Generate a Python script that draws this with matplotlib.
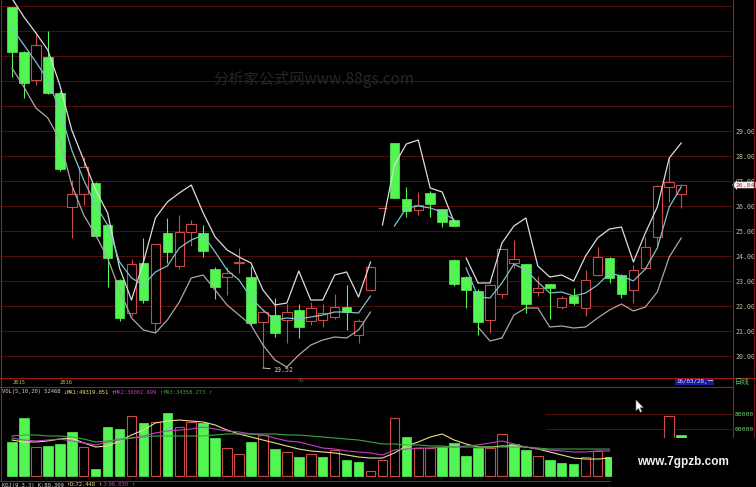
import numpy as np
import matplotlib
matplotlib.use("Agg")
import matplotlib.pyplot as plt
from matplotlib.patches import Rectangle, Polygon
from matplotlib.lines import Line2D

plt.rcParams['font.family'] = ['DejaVu Sans', 'Noto Sans CJK SC']

# ---- candle data (three pieces of the screenshot) ----
# left piece
xa = np.arange(0, 31)
open_a = [33.96, 32.16, 31.04, 31.96, 30.52, 25.96, 26.48, 26.92, 25.24, 23.04,
          21.72, 23.72, 21.32, 24.92, 23.60, 24.96, 24.92, 23.48, 23.16, 23.72,
          23.16, 21.36, 21.64, 21.44, 21.84, 21.40, 21.44, 21.56, 21.96, 20.84, 22.64]
high_a = [33.98, 32.20, 32.96, 33.00, 30.60, 27.04, 27.96, 26.95, 25.30, 23.10,
          23.90, 24.72, 24.50, 25.52, 25.64, 25.44, 25.24, 23.56, 23.56, 24.32,
          23.60, 21.90, 22.32, 22.08, 22.08, 22.16, 22.08, 22.48, 22.84, 21.50, 23.60]
low_a = [31.16, 30.32, 30.84, 30.50, 27.40, 24.72, 26.04, 24.75, 22.76, 21.40,
         21.60, 22.12, 20.92, 23.72, 23.50, 24.40, 23.96, 22.28, 22.44, 23.32,
         21.20, 19.52, 20.76, 20.52, 20.72, 21.24, 21.16, 21.50, 21.04, 20.52, 22.60]
close_a = [32.16, 30.92, 32.44, 30.52, 27.48, 26.48, 27.56, 24.80, 23.92, 21.52,
           23.68, 22.24, 24.48, 24.16, 24.96, 25.28, 24.20, 22.76, 23.32, 23.76,
           21.32, 21.76, 20.92, 21.76, 21.16, 21.92, 21.72, 21.96, 21.76, 21.40, 23.56]
boll_up_a = [34.30, 33.56, 32.92, 32.24, 30.84, 29.04, 27.84, 26.64, 25.72, 23.52,
             22.24, 23.76, 25.52, 26.16, 26.52, 26.84, 25.72, 24.76, 24.24, 23.96,
             23.72, 22.64, 22.04, 22.12, 23.40, 22.24, 22.24, 23.24, 23.36, 22.36, 23.76]
boll_mid_a = [33.12, 32.44, 31.76, 31.04, 29.84, 28.24, 27.04, 26.04, 25.24, 23.76,
              23.12, 22.84, 23.36, 23.60, 24.32, 24.64, 24.84, 24.16, 23.44, 23.04,
              22.32, 21.84, 21.44, 21.52, 21.48, 21.56, 21.64, 21.76, 21.76, 21.72, 22.40]
boll_low_a = [31.52, 30.76, 29.92, 29.52, 28.64, 26.84, 25.64, 24.84, 23.92, 22.64,
              21.52, 21.04, 20.92, 21.44, 22.16, 23.12, 23.24, 22.64, 22.04, 21.64,
              21.24, 20.44, 19.84, 19.56, 20.04, 20.44, 20.64, 20.76, 20.72, 21.04, 21.76]

# upper middle piece
xb = np.arange(31, 38)
open_b = [25.92, 28.52, 26.28, 25.84, 26.52, 25.88, 25.44]
high_b = [25.92, 28.52, 26.76, 26.56, 26.60, 25.90, 25.44]
low_b = [25.92, 26.32, 25.56, 25.64, 25.56, 25.16, 25.20]
close_b = [25.92, 26.32, 25.80, 26.04, 26.08, 25.36, 25.20]
boll_up_b = [25.24, 27.64, 28.48, 28.64, 26.72, 26.56, 25.36]
boll_mid_b = [np.nan, 25.20, 25.92, 26.00, 25.92, 25.76, 25.44]

# right piece
xc = np.arange(37, 57)
open_c = [23.84, 23.16, 22.60, 21.44, 22.48, 23.72, 23.68, 22.56, 22.88, 21.96,
          22.40, 21.92, 23.24, 23.92, 23.24, 22.64, 23.52, 24.76, 26.76, 26.48]
high_c = [23.90, 23.20, 22.70, 22.90, 24.30, 24.64, 23.70, 23.20, 22.90, 22.40,
          22.72, 23.44, 24.36, 23.95, 23.30, 23.64, 24.76, 26.85, 27.92, 26.88]
low_c = [22.80, 21.92, 20.84, 20.92, 22.32, 23.52, 21.72, 22.40, 21.50, 21.90,
         22.04, 21.60, 23.20, 22.92, 22.32, 22.12, 23.50, 24.32, 26.16, 25.92]
close_c = [22.88, 22.64, 21.36, 22.84, 24.28, 23.88, 22.08, 22.72, 22.72, 22.32,
           22.12, 23.04, 23.96, 23.12, 22.48, 23.44, 24.36, 26.80, 26.96, 26.84]
boll_up_c = [np.nan, 23.92, 22.92, 22.92, 24.52, 25.20, 25.52, 23.60, 23.16, 23.24,
             23.00, 24.00, 24.72, 25.08, 25.16, 23.76, 24.92, 25.96, 27.92, 28.52]
boll_mid_c = [np.nan, 23.52, 22.36, 22.32, 22.92, 23.68, 23.44, 22.96, 22.52, 22.56,
              22.40, 22.52, 22.84, 23.32, 23.20, 23.00, 23.48, 24.32, 25.96, 26.76]
boll_low_c = [np.nan, np.nan, 21.16, 20.60, 20.72, 21.64, 21.92, 21.92, 21.16, 21.20,
              21.12, 21.16, 21.52, 21.84, 22.08, 21.80, 21.96, 22.56, 23.96, 24.72]

price_ticks = [20, 21, 22, 23, 24, 25, 26, 27, 28, 29]
last_price = 26.84
low_mark = 19.52

# ---- volume ----
xv = np.arange(0, 57)
nan = np.nan
vol = [43900, 74800, 37400, 38700, 41300, 56800, 37400, 9000, 63200, 60600,
       77400, 68400, 69700, 81300, 63200, 69700, 68400, 49000, 36100, 28400,
       43900, 52900, 34800, 31000, 24500, 28400, 24500, 33500, 20600, 18100,
       6500, 20600, 74800, 50300, 36100, 36100, 37400, 42600, 25800, 36100,
       36100, 54200, 41300, 33500, 25800, 20600, 16800, 15500, 24500, 32300,
       24500, nan, nan, nan, nan, 77400, 52900]
vol_up = [0, 0, 1, 0, 0, 0, 1, 0, 0, 0, 1, 0, 1, 0, 1, 1, 0, 0, 1, 1,
          0, 1, 0, 1, 0, 1, 0, 1, 0, 0, 1, 1, 1, 0, 1, 1, 0, 0, 0, 0,
          1, 1, 0, 0, 1, 0, 0, 0, 1, 1, 0, 0, 0, 0, 0, 1, 0]
xm = np.arange(0, 51)
vol_ma1 = [46400, 43900, 43900, 45200, 47700, 49000, 42600, 37400, 38700, 45200,
           52900, 59300, 68400, 70900, 72200, 70900, 69700, 65800, 59300, 54200,
           50300, 46400, 42600, 38700, 34800, 32300, 31000, 29700, 27100, 24500,
           23200, 23200, 29700, 38700, 43900, 50300, 54200, 46400, 41300, 37400,
           37400, 38700, 38700, 37400, 34800, 31000, 27100, 23200, 21900, 21900, 23200]
vol_ma2 = [49000, 46400, 45200, 46400, 47700, 45200, 42600, 40000, 43900, 46400,
           49000, 51600, 55500, 58100, 59300, 60600, 63200, 60600, 58100, 56800,
           54200, 52900, 49000, 45200, 43900, 40000, 36100, 34800, 32300, 31000,
           29700, 27100, 33500, 34800, 36100, 36100, 37400, 37400, 38700, 40000,
           42600, 45200, 41300, 37400, 34800, 33500, 32300, 31000, 31000, 32300, 32300]
vol_ma3 = [51600, 52900, 52900, 51600, 51600, 50300, 47700, 43900, 45200, 47700,
           49000, 50300, 51600, 51600, 51600, 51600, 51600, 52900, 54200, 54200,
           54200, 54200, 54200, 52900, 52900, 51600, 50300, 49000, 47700, 46400,
           43900, 41300, 41300, 40000, 40000, 38700, 38700, 37400, 37400, 37400,
           37400, 37400, 37400, 37400, 36100, 34800, 34800, 34800, 34800, 34800, 34800]
vol_ticks = [60000, 80000]

# ---- colours ----
BG = 'black'
GREEN = '#52f552'
RED = '#c84a4a'
GRID = '#520e0e'
FRAME = '#9a1c1c'
TXT = '#b8c8a8'

W, H = 756, 487
fig = plt.figure(figsize=(W / 100, H / 100), dpi=100, facecolor=BG)


def fx(x):
    return x / W


def fy(y):
    return 1 - y / H


def fline(x0, y0, x1, y1, color=FRAME, lw=0.8):
    fig.add_artist(Line2D([fx(x0), fx(x1)], [fy(y0), fy(y1)], color=color, lw=lw,
                          transform=fig.transFigure))


x_left, x_right = -12 / 11.95, (732 - 12) / 11.95
CW = 0.8  # candle width

# price panel
ax = fig.add_axes([0, fy(377), fx(732), 377 / H])
ax.set_facecolor(BG)
ax.set_xlim(x_left, x_right)
ax.set_ylim(34.24 - 377 / 25, 34.24)
for s in ax.spines.values():
    s.set_visible(False)
ax.hlines(range(20, 35), x_left, x_right, color=GRID, lw=0.7, zorder=0)


def draw_candles(x, o, h, l, c):
    for xi, oi, hi, li, ci in zip(x, o, h, l, c):
        if ci >= oi:
            ax.vlines(xi, li, hi, color=RED, lw=0.8, zorder=2)
            ax.add_patch(Rectangle((xi - CW / 2, oi), CW, ci - oi, facecolor=BG,
                                   edgecolor=RED, lw=0.8, zorder=3))
        else:
            ax.vlines(xi, li, hi, color=GREEN, lw=0.8, zorder=2)
            ax.add_patch(Rectangle((xi - CW / 2, ci), CW, oi - ci, facecolor=GREEN,
                                   edgecolor=GREEN, lw=0.5, zorder=3))


draw_candles(xa, open_a, high_a, low_a, close_a)
draw_candles(xb, open_b, high_b, low_b, close_b)
draw_candles(xc, open_c, high_c, low_c, close_c)

for xs, up, mid, low in [(xa, boll_up_a, boll_mid_a, boll_low_a),
                         (xb, boll_up_b, boll_mid_b, None),
                         (xc, boll_up_c, boll_mid_c, boll_low_c)]:
    ax.plot(xs, up, color='#dcdcdc', lw=0.9, zorder=4)
    ax.plot(xs, mid, color='#7cc4c8', lw=0.9, zorder=4)
    if low is not None:
        ax.plot(xs, low, color='#a8a8a8', lw=0.9, zorder=4)

ax.annotate(f'{low_mark:.2f}', xy=(21, low_mark), xytext=(10, -2),
            textcoords='offset pixels', color='#c8c8c8', fontsize=4.8,
            family='DejaVu Sans Mono', va='center',
            arrowprops=dict(arrowstyle='-', color='#c8c8c8', lw=0.7,
                            shrinkA=0, shrinkB=0))

ax.set_xticks([])
ax.yaxis.tick_right()
ax.set_yticks(price_ticks)
ax.set_yticklabels([f'{t:.2f}' for t in price_ticks], family='DejaVu Sans Mono',
                   fontsize=4.8, color=TXT)
ax.tick_params(axis='y', length=0, pad=2.5)

# last price tag
ax.text(x_right + 0.3, last_price, f'{last_price:.2f}', color='#c03030',
        fontsize=4.6, family='DejaVu Sans Mono', va='center', ha='left',
        bbox=dict(boxstyle='larrow,pad=0.12', fc='#f0f0f0', ec='none'),
        clip_on=False, zorder=6)

# volume panel
av = fig.add_axes([0, fy(480), fx(732), 94 / H])
av.set_facecolor(BG)
av.set_xlim(x_left, x_right)
av.set_ylim(-4 * 1290, 90 * 1290)
for s in av.spines.values():
    s.set_visible(False)
av.hlines(vol_ticks, (545 - 12) / 11.95, x_right, color=GRID, lw=0.7, zorder=0)
for xi, v, u in zip(xv, vol, vol_up):
    if np.isnan(v):
        continue
    if u:
        av.add_patch(Rectangle((xi - CW / 2, 0), CW, v, facecolor=BG, edgecolor=RED,
                               lw=0.8, zorder=3))
    else:
        av.add_patch(Rectangle((xi - CW / 2, 0), CW, v, facecolor=GREEN,
                               edgecolor=GREEN, lw=0.5, zorder=3))
av.plot(xm, vol_ma1, color='#e6e08a', lw=0.8, zorder=4)
av.plot(xm, vol_ma2, color='#c040c8', lw=0.8, zorder=4)
av.plot(xm, vol_ma3, color='#3ca83c', lw=0.8, zorder=4)
av.set_xticks([])
av.yaxis.tick_right()
av.set_yticks(vol_ticks)
av.set_yticklabels([str(t) for t in vol_ticks], family='DejaVu Sans Mono',
                   fontsize=4.6, color='#70d070')
av.tick_params(axis='y', length=0, pad=2)

# frame lines
fline(0.5, 0, 0.5, 480)
fline(0, 377.5, 756, 377.5)
fline(0, 386.5, 732, 386.5)
fline(0, 480.5, 610, 480.5)
fline(732.5, 0, 732.5, 438)
fline(753.5, 0, 753.5, 438, color='#6a1010')

# date strip
mono = dict(family='DejaVu Sans Mono', fontsize=4.0, va='center', ha='left')
fig.text(fx(13), fy(382), '2015', color='#b4bc50', **mono)
fig.text(fx(60), fy(382), '2016', color='#b4bc50', **mono)
fig.text(fx(298), fy(381), '09', color='#606040', **mono)
fig.text(fx(676), fy(382), '16/03/28,一', color='#e0e0ff', fontsize=4.2,
         va='center', ha='left', family=['DejaVu Sans Mono', 'Noto Sans CJK SC'],
         bbox=dict(boxstyle='square,pad=0.15', fc='#1a1aa8', ec='none'))
fig.text(fx(735), fy(382), '日线', color='#60c060', fontsize=5.4, va='center',
         ha='left', family=['Noto Sans CJK SC', 'DejaVu Sans'])

# VOL header
fig.text(fx(2), fy(392), 'VOL(5,10,20) 52468', color='#d0d0d0', **mono)
fig.text(fx(63.5), fy(392), '↓', color='#e6e08a', **mono)
fig.text(fx(67), fy(392), 'MA1:49319.051', color='#e6e08a', **mono)
fig.text(fx(111), fy(392), '↑', color='#e6e08a', **mono)
fig.text(fx(115), fy(392), 'MA2:36002.699', color='#c040c8', **mono)
fig.text(fx(159.5), fy(392), '↑', color='#c040c8', **mono)
fig.text(fx(164), fy(392), 'MA3:34358.273', color='#3ca83c', **mono)
fig.text(fx(208.5), fy(392), '↑', color='#3ca83c', **mono)

# KDJ header (cut at the bottom)
fig.text(fx(2), fy(485), 'KDJ(9,3,3) K:80.309', color='#d0d0d0', **mono)
fig.text(fx(66), fy(485), '↑', color='#e6e08a', **mono)
fig.text(fx(70), fy(485), 'D:72.448', color='#e6e08a', **mono)
fig.text(fx(98), fy(485), '↑', color='#e6e08a', **mono)
fig.text(fx(103), fy(485), 'J:96.030', color='#c040c8', **mono)
fig.text(fx(131), fy(485), '↑', color='#c040c8', **mono)

# faint watermark
fig.text(fx(213), fy(80), '分析家公式网www.88gs.com', color='#262626', fontsize=11,
         va='center', ha='left', family=['Noto Sans CJK SC', 'DejaVu Sans'])

# site watermark box
fig.add_artist(Rectangle((fx(612), 0), fx(756) - fx(612), fy(438), facecolor=BG,
                         edgecolor='none', transform=fig.transFigure, zorder=5))
fig.text(fx(683), fy(462), 'www.7gpzb.com', color='#f2f2f2', fontsize=8.5,
         fontweight='bold', family='Liberation Sans', va='center', ha='center',
         zorder=6)

# mouse pointer
pointer = np.array([[636, 400], [636, 410.5], [638.5, 408.3], [640.3, 412.2],
                    [641.8, 411.5], [640, 407.6], [643.2, 407.6]])
fig.add_artist(Polygon(np.column_stack([pointer[:, 0] / W, 1 - pointer[:, 1] / H]),
                       closed=True, facecolor='white', edgecolor='#888888', lw=0.4,
                       transform=fig.transFigure, zorder=6))

fig.savefig('out.png', dpi=100, facecolor=BG)
